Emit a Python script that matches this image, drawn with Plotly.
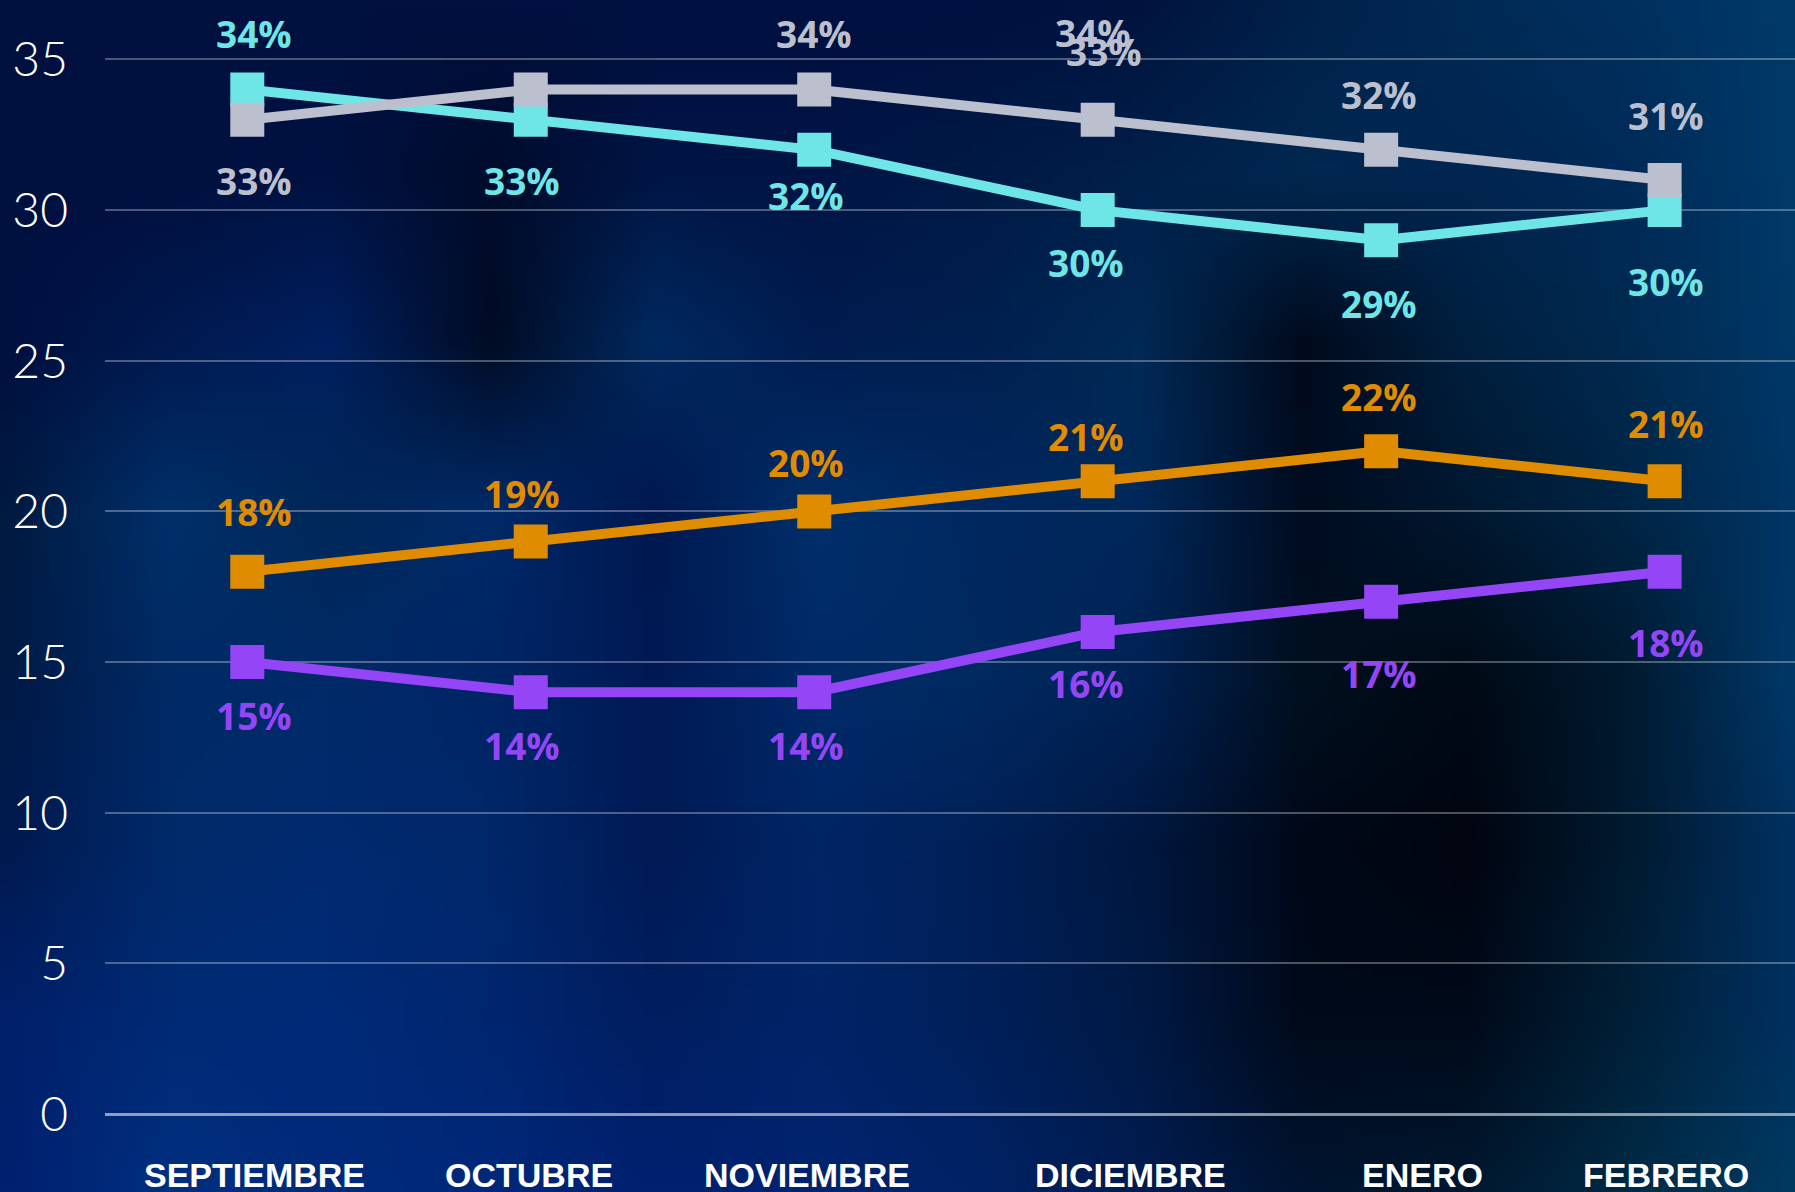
import base64, struct, zlib
import numpy as np
import plotly.graph_objects as go

# ---------------- data ----------------
months = ["SEPTIEMBRE", "OCTUBRE", "NOVIEMBRE", "DICIEMBRE", "ENERO", "FEBRERO"]
cyan_vals = [34, 33, 32, 30, 29, 30]
grey_vals = [33, 34, 34, 33, 32, 31]
orange_vals = [18, 19, 20, 21, 22, 21]
purple_vals = [15, 14, 14, 16, 17, 18]
y_ticks = [0, 5, 10, 15, 20, 25, 30, 35]
extra_grey_label = ("DICIEMBRE", 34)   # stray overlapping label in the original

# ---------------- style ----------------
W, H = 1795, 1192
ML = 105
PX_PER_UNIT = 30.13
Y0_PX = 1114
y_top = Y0_PX / PX_PER_UNIT
y_bot = -(H - Y0_PX) / PX_PER_UNIT
col_px = 283.5
x_left = -(247.3 - ML) / col_px
x_right = 5 + (W - 1664.6) / col_px

C_CYAN = "#6ee6e8"
C_GREY = "#bcc0ce"
C_ORANGE = "#e08c00"
C_PURPLE = "#9446f7"

# label offsets in px (positive = downward), None = hidden
lab_dy = {
    "cyan": [-56, 61, 46, 52, 63, 71],
    "grey": [61, None, -56, -68, -55, -64],
    "orange": [-60, -48, -49, -45, -55, -58],
    "purple": [53, 53, 53, 52, 72, 71],
}
lab_dx = [7, -9, -8, -12, -2, 1]
lab_dx_override = {("grey", 2): 0, ("grey", 3): 6}
month_dx = [7, -2, -7, 33, 41, 1]

# ---------------- background image ----------------
bg_hex = [
    ["00103f", "00103f", "00103f", "001040", "001040", "001040", "001040", "00143f", "00214a", "002a55", "00305f", "003a68"],
    ["00103f", "00103f", "001242", "000c2c", "001545", "001545", "001a45", "00204a", "002850", "002550", "002a58", "003a68"],
    ["001040", "001a50", "002060", "000c24", "002a60", "001c50", "002050", "002a55", "000a1c", "00203f", "002a50", "003868"],
    ["001a40", "00306a", "002858", "002a68", "001850", "00306a", "002860", "00285a", "000c20", "001830", "002545", "003565"],
    ["001a45", "002a65", "002a68", "002565", "001a55", "002a68", "002a60", "002255", "00101f", "000a15", "001a30", "003868"],
    ["001a50", "002a6a", "002a70", "00286a", "001a55", "002565", "002058", "001840", "000818", "000510", "001a30", "003060"],
    ["00206a", "002a75", "002a78", "002670", "001e60", "002468", "00205a", "001a45", "000a1a", "000a1a", "002038", "003060"],
    ["002070", "003080", "002a7a", "00287a", "002070", "002470", "002265", "001c50", "001430", "00182f", "002a45", "003a60"],
]


def _bg_png():
    g = np.array([[[int(h[i:i + 2], 16) for i in (0, 2, 4)] for h in row] for row in bg_hex], dtype=float)
    gh, gw, _ = g.shape
    oh, ow = 120, 180
    ys = np.linspace(0, gh - 1, oh)
    xs = np.linspace(0, gw - 1, ow)
    y0 = np.floor(ys).astype(int); y1 = np.minimum(y0 + 1, gh - 1); fy = (ys - y0)[:, None, None]
    x0 = np.floor(xs).astype(int); x1 = np.minimum(x0 + 1, gw - 1); fx = (xs - x0)[None, :, None]
    a = g[y0][:, x0]; b = g[y0][:, x1]; c = g[y1][:, x0]; d = g[y1][:, x1]
    img = (a * (1 - fx) + b * fx) * (1 - fy) + (c * (1 - fx) + d * fx) * fy
    img = np.clip(img, 0, 255).astype(np.uint8)
    raw = b"".join(b"\x00" + img[r].tobytes() for r in range(oh))

    def chunk(t, data):
        return struct.pack(">I", len(data)) + t + data + struct.pack(">I", zlib.crc32(t + data) & 0xffffffff)

    png = b"\x89PNG\r\n\x1a\n" + chunk(b"IHDR", struct.pack(">IIBBBBB", ow, oh, 8, 2, 0, 0, 0)) \
        + chunk(b"IDAT", zlib.compress(raw, 9)) + chunk(b"IEND", b"")
    return "data:image/png;base64," + base64.b64encode(png).decode()


# ---------------- figure ----------------
fig = go.Figure()
series = [
    ("purple", purple_vals, C_PURPLE),
    ("orange", orange_vals, C_ORANGE),
    ("cyan", cyan_vals, C_CYAN),
    ("grey", grey_vals, C_GREY),
]
for name, vals, col in series:
    fig.add_trace(go.Scatter(
        x=months, y=vals, mode="lines+markers", name=name,
        line=dict(color=col, width=10),
        marker=dict(symbol="square", size=34, color=col),
        hoverinfo="skip", showlegend=False, cliponaxis=False,
    ))

LABEL_FONT = dict(family="Open Sans, Lato, sans-serif", size=37, weight=700)
annotations = []
for name, vals, col in series:
    for i, (m, v) in enumerate(zip(months, vals)):
        dy = lab_dy[name][i]
        if dy is None:
            continue
        annotations.append(dict(
            x=m, y=v, text=f"{v}%", showarrow=False,
            xshift=lab_dx_override.get((name, i), lab_dx[i]), yshift=-dy,
            font=dict(color=col, **LABEL_FONT),
            xanchor="center", yanchor="middle",
        ))
annotations.append(dict(
    x=extra_grey_label[0], y=grey_vals[months.index(extra_grey_label[0])], text=f"{extra_grey_label[1]}%",
    showarrow=False, xshift=-5, yshift=87,
    font=dict(color=C_GREY, **LABEL_FONT), xanchor="center", yanchor="middle",
))
for i, m in enumerate(months):
    annotations.append(dict(
        x=m, y=0, text=m, showarrow=False, xshift=month_dx[i], yshift=-61,
        font=dict(family="Liberation Sans, Arial, sans-serif", size=34, color="white", weight=700),
        xanchor="center", yanchor="middle",
    ))

fig.update_layout(
    width=W, height=H,
    margin=dict(l=ML, r=0, t=0, b=0, pad=0),
    paper_bgcolor="#001040",
    plot_bgcolor="rgba(0,0,0,0)",
    annotations=annotations,
    images=[dict(
        source=_bg_png(), xref="paper", yref="paper",
        x=-ML / (W - ML), y=1, sizex=W / (W - ML), sizey=1,
        xanchor="left", yanchor="top", sizing="stretch", layer="below",
    )],
    xaxis=dict(
        type="category", range=[x_left, x_right], showgrid=False, zeroline=False,
        showticklabels=False, ticks="", showline=False,
    ),
    yaxis=dict(
        range=[y_bot, y_top], tickvals=y_ticks, ticktext=[str(t) for t in y_ticks],
        showgrid=True, gridcolor="rgba(255,255,255,0.30)", gridwidth=1.5,
        zeroline=True, zerolinecolor="rgba(255,255,255,0.55)", zerolinewidth=2.5,
        tickfont=dict(family="Lato, Open Sans, sans-serif", size=48, color="white", weight=300),
        ticks="", showline=False, ticklabelstandoff=36,
    ),
    hovermode=False,
)

fig.write_html(
    "out.html",
    config={"displayModeBar": False},
    post_script="document.body.style.margin='0';document.body.style.padding='0';"
                "document.body.style.overflow='hidden';document.body.style.background='#001040';",
)
